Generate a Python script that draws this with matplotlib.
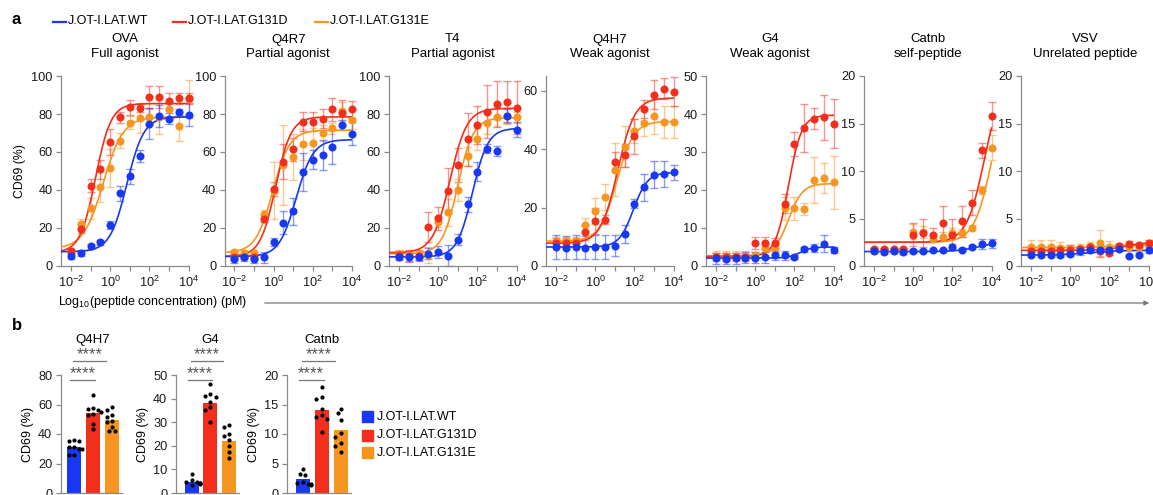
import numpy as np
import matplotlib
matplotlib.use("Agg")
import matplotlib.pyplot as plt
from matplotlib.lines import Line2D
from matplotlib.patches import Rectangle
from matplotlib.ticker import FixedLocator, NullFormatter
import matplotlib.transforms as mtransforms

plt.rcParams['font.family'] = ['Liberation Sans', 'DejaVu Sans']
plt.rcParams['mathtext.fontset'] = 'custom'
plt.rcParams['mathtext.rm'] = 'Liberation Sans'
plt.rcParams['mathtext.it'] = 'Liberation Sans:italic'
plt.rcParams['mathtext.bf'] = 'Liberation Sans:bold'

# ---------------- data ----------------
series_names = ["J.OT-I.LAT.WT", "J.OT-I.LAT.G131D", "J.OT-I.LAT.G131E"]
log_conc = [-2.0, -1.5, -1.0, -0.5, 0.0, 0.5, 1.0, 1.5, 2.0, 2.5, 3.0, 3.5, 4.0]

peptides = ["OVA", "Q4R7", "T4", "Q4H7", "G4", "Catnb", "VSV"]
peptide_desc = ["Full agonist", "Partial agonist", "Partial agonist", "Weak agonist",
                "Weak agonist", "self-peptide", "Unrelated peptide"]
y_max = [100, 100, 100, 65, 50, 20, 20]
y_ticks = [[0, 20, 40, 60, 80, 100], [0, 20, 40, 60, 80, 100], [0, 20, 40, 60, 80, 100],
           [0, 20, 40, 60], [0, 10, 20, 30, 40, 50], [0, 5, 10, 15, 20], [0, 5, 10, 15, 20]]

# mean CD69 (%) and error per concentration
ova_wt = [5.3, 6.8, 10.3, 12.4, 21.6, 38.2, 47.3, 58.0, 75.0, 79.0, 77.6, 81.0, 79.7]
ova_wt_err = [1.5, 1.5, 1.5, 1.5, 2.0, 4.0, 4.0, 3.0, 8.0, 6.0, 3.0, 1.5, 6.0]
ova_d = [7.7, 19.7, 42.3, 51.0, 65.2, 78.3, 83.5, 83.2, 89.0, 89.0, 86.8, 88.3, 88.3]
ova_d_err = [1.5, 2.5, 3.5, 5.0, 7.0, 3.0, 4.0, 2.0, 6.0, 6.0, 4.5, 3.0, 3.0]
ova_e = [8.0, 22.0, 30.5, 41.5, 51.5, 66.0, 75.5, 78.0, 78.5, 78.5, 82.5, 73.5, 88.0]
ova_e_err = [1.0, 2.5, 5.5, 8.0, 10.0, 4.0, 3.5, 8.0, 4.0, 9.0, 4.0, 7.5, 10.0]

q4r7_wt = [3.8, 4.5, 3.8, 4.5, 12.7, 22.8, 28.8, 49.3, 55.8, 58.5, 62.5, 74.2, 69.7]
q4r7_wt_err = [2.0, 2.0, 2.0, 3.0, 2.0, 6.0, 7.0, 10.0, 5.0, 8.0, 9.0, 2.5, 6.0]
q4r7_d = [5.0, 5.0, 5.0, 25.0, 40.5, 55.0, 61.5, 76.0, 76.0, 77.5, 82.5, 80.5, 82.5]
q4r7_d_err = [1.5, 1.5, 1.5, 2.0, 3.5, 9.0, 6.0, 5.0, 5.0, 5.0, 6.0, 7.0, 4.5]
q4r7_e = [7.5, 7.0, 7.0, 27.5, 39.5, 53.0, 57.5, 64.0, 64.5, 70.0, 72.5, 81.5, 77.0]
q4r7_e_err = [1.0, 1.5, 1.5, 2.0, 15.0, 21.0, 12.0, 8.0, 8.0, 4.0, 3.0, 5.0, 5.0]

t4_wt = [4.9, 4.7, 4.9, 6.5, 7.3, 5.5, 13.8, 32.5, 49.6, 61.8, 60.4, 79.2, 71.7]
t4_wt_err = [2.0, 2.0, 2.0, 3.0, 3.0, 5.5, 3.0, 4.0, 5.0, 2.5, 2.5, 3.5, 4.0]
t4_d = [5.8, 5.2, 5.5, 20.4, 25.2, 39.4, 53.0, 66.7, 74.2, 81.2, 85.3, 86.5, 83.3]
t4_d_err = [2.0, 3.0, 3.0, 8.0, 6.0, 12.0, 9.0, 14.0, 10.0, 14.0, 12.0, 11.0, 14.0]
t4_e = [6.5, 6.0, 6.0, 5.8, 23.4, 28.2, 40.0, 57.7, 66.8, 75.3, 78.6, 78.9, 78.3]
t4_e_err = [2.0, 2.0, 2.0, 4.0, 3.0, 7.0, 6.0, 5.0, 6.0, 6.0, 5.0, 4.0, 3.0]

q4h7_wt = [6.5, 6.3, 6.5, 6.3, 6.5, 6.5, 7.0, 10.9, 21.3, 26.9, 31.3, 31.4, 32.0]
q4h7_wt_err = [4.0, 4.0, 4.0, 4.0, 4.0, 4.0, 3.5, 3.0, 1.5, 4.5, 4.5, 4.5, 2.5]
q4h7_d = [8.0, 8.0, 8.0, 11.5, 15.4, 15.9, 35.6, 37.9, 44.4, 53.7, 58.6, 60.7, 59.6]
q4h7_d_err = [1.5, 1.5, 1.5, 2.5, 4.5, 1.5, 3.5, 4.0, 6.0, 3.0, 5.0, 3.5, 5.0]
q4h7_e = [8.5, 8.5, 8.5, 14.0, 18.7, 23.7, 33.0, 40.8, 46.2, 48.9, 51.2, 49.2, 49.2]
q4h7_e_err = [1.5, 1.5, 1.5, 2.5, 4.5, 4.5, 9.0, 7.0, 4.0, 4.5, 6.0, 5.5, 5.5]

g4_wt = [2.0, 1.9, 2.0, 2.2, 2.2, 2.3, 2.8, 2.8, 2.4, 4.4, 4.8, 5.9, 4.1]
g4_wt_err = [1.5, 1.5, 1.5, 1.5, 1.5, 1.5, 1.2, 1.2, 0.5, 0.7, 1.0, 2.3, 0.8]
g4_d = [2.5, 2.5, 2.5, 2.5, 6.0, 6.0, 6.0, 16.4, 32.1, 36.3, 38.8, 39.1, 37.5]
g4_d_err = [1.0, 1.0, 1.0, 1.0, 1.6, 1.6, 1.5, 2.5, 3.2, 6.3, 2.7, 6.0, 6.5]
g4_e = [2.7, 2.7, 2.7, 2.7, 2.8, 4.8, 4.8, 15.2, 15.2, 15.0, 22.6, 23.2, 22.0]
g4_e_err = [1.3, 1.3, 1.3, 1.3, 1.0, 1.0, 1.0, 3.0, 3.0, 1.5, 6.0, 4.0, 7.0]

catnb_wt = [1.57, 1.47, 1.54, 1.43, 1.54, 1.61, 1.68, 1.68, 2.0, 1.71, 2.03, 2.31, 2.38]
catnb_wt_err = [0.2, 0.2, 0.2, 0.2, 0.15, 0.15, 0.15, 0.15, 0.3, 0.15, 0.2, 0.5, 0.5]
catnb_d = [1.75, 1.75, 1.75, 1.75, 3.3, 3.45, 3.3, 4.55, 3.3, 4.7, 6.65, 12.2, 15.8]
catnb_d_err = [0.15, 0.15, 0.15, 0.15, 1.2, 1.5, 0.7, 1.8, 1.6, 1.6, 1.3, 0.8, 1.5]
catnb_e = [1.7, 1.7, 1.7, 1.7, 3.6, 3.6, 2.85, 3.1, 3.45, 3.45, 4.05, 8.0, 12.45]
catnb_e_err = [0.15, 0.15, 0.15, 0.15, 0.8, 0.6, 0.3, 0.5, 0.5, 0.4, 0.3, 0.4, 1.3]

vsv_wt = [1.15, 1.15, 1.15, 1.15, 1.22, 1.57, 1.72, 1.72, 1.68, 1.75, 1.05, 1.17, 1.66]
vsv_wt_err = [0.15, 0.15, 0.15, 0.15, 0.2, 0.4, 0.25, 0.25, 0.25, 0.2, 0.15, 0.15, 0.3]
vsv_d = [1.6, 1.6, 1.6, 1.65, 1.7, 1.75, 1.95, 1.55, 1.35, 2.15, 2.35, 2.2, 2.4]
vsv_d_err = [0.3, 0.3, 0.3, 0.4, 0.5, 0.3, 0.3, 0.6, 0.2, 0.2, 0.3, 0.2, 0.3]
vsv_e = [2.0, 2.0, 2.0, 1.9, 1.75, 1.85, 2.15, 2.45, 2.05, 2.1, 1.95, 1.95, 2.25]
vsv_e_err = [0.75, 0.75, 0.75, 0.6, 0.5, 0.5, 0.4, 1.35, 0.6, 0.3, 0.3, 0.3, 0.5]

# 4-parameter logistic fits: [bottom, top, logEC50, hill]
ova_fit = [[7.5, 78.5, 0.85, 1.0], [7.0, 85.5, -0.75, 1.1], [9.0, 78.5, -0.35, 0.85]]
q4r7_fit = [[5.0, 66.5, 1.15, 1.0], [5.0, 78.5, 0.1, 1.1], [7.0, 71.5, -0.05, 1.0]]
t4_fit = [[4.8, 72.5, 1.75, 1.1], [7.0, 83.0, 0.6, 1.0], [6.5, 78.0, 1.0, 1.1]]
q4h7_fit = [[6.5, 32.0, 1.95, 1.2], [7.8, 57.5, 1.15, 1.0], [8.5, 49.5, 1.1, 1.0]]
g4_fit = [[2.1, 5.0, 2.3, 1.5], [2.5, 39.7, 1.7, 1.3], [2.7, 21.7, 1.7, 1.2]]
catnb_fit = [[1.52, 2.5, 3.3, 0.8], [2.5, 20.0, 3.64, 0.95], [2.5, 20.0, 4.03, 0.95]]
vsv_fit = [[1.15, 1.65, 1.0, 0.6], [1.65, 2.5, 2.8, 0.8], [1.95, 2.2, 2.0, 0.8]]

# panel b: individual replicates at the highest concentration
bar_peptides = ["Q4H7", "G4", "Catnb"]
bar_ymax = [80, 50, 20]
bar_yticks = [[0, 20, 40, 60, 80], [0, 10, 20, 30, 40, 50], [0, 5, 10, 15, 20]]
q4h7_bar_means = [31.3, 54.2, 49.2]
q4h7_wt_reps = [35.8, 35.0, 35.0, 31.3, 30.0, 29.7, 26.0, 25.6, 31.0]
q4h7_d_reps = [66.7, 57.4, 56.2, 54.6, 53.3, 52.8, 46.7, 43.1, 56.8]
q4h7_e_reps = [58.5, 56.2, 52.8, 51.2, 49.0, 47.8, 44.9, 42.2, 42.0]
g4_bar_means = [4.7, 38.2, 22.1]
g4_wt_reps = [8.2, 5.7, 4.7, 4.5, 4.2, 4.2, 3.9, 3.4]
g4_d_reps = [46.2, 41.9, 41.1, 40.8, 38.7, 36.5, 35.1, 30.0]
g4_e_reps = [28.9, 27.8, 25.2, 24.1, 22.4, 19.8, 17.4, 14.9]
catnb_bar_means = [2.3, 14.1, 10.6]
catnb_wt_reps = [4.0, 3.3, 3.0, 1.9, 1.7, 1.5, 1.3, 1.6]
catnb_d_reps = [18.0, 16.3, 15.9, 14.3, 13.2, 12.9, 12.6, 10.4]
catnb_e_reps = [14.3, 13.6, 12.4, 10.1, 8.4, 7.9, 7.0, 9.5]

# ---------------- style ----------------
W, H = 1153, 495
colors = ['#1838f2', '#f22e1c', '#f79520']
spine_c = '#8a8a8a'
fig = plt.figure(figsize=(W / 100, H / 100), dpi=100)


def add_ax(left, top, width, height):
    return fig.add_axes([left / W, 1 - (top + height) / H, width / W, height / H])


def fpx(x, y):
    return (x / W, 1 - y / H)


def style_axes(ax, fs=9.2):
    for s in ['top', 'right']:
        ax.spines[s].set_visible(False)
    for s in ['left', 'bottom']:
        ax.spines[s].set_color(spine_c)
        ax.spines[s].set_linewidth(0.9)
    ax.tick_params(which='both', color=spine_c, width=0.9, length=3.5,
                   labelsize=fs, labelcolor='#1a1a1a', pad=2.5)


def fourpl(lx, p):
    b, t, c, h = p
    return b + (t - b) / (1.0 + 10 ** ((c - lx) * h))


panel_data = [
    (ova_wt, ova_wt_err, ova_d, ova_d_err, ova_e, ova_e_err, ova_fit),
    (q4r7_wt, q4r7_wt_err, q4r7_d, q4r7_d_err, q4r7_e, q4r7_e_err, q4r7_fit),
    (t4_wt, t4_wt_err, t4_d, t4_d_err, t4_e, t4_e_err, t4_fit),
    (q4h7_wt, q4h7_wt_err, q4h7_d, q4h7_d_err, q4h7_e, q4h7_e_err, q4h7_fit),
    (g4_wt, g4_wt_err, g4_d, g4_d_err, g4_e, g4_e_err, g4_fit),
    (catnb_wt, catnb_wt_err, catnb_d, catnb_d_err, catnb_e, catnb_e_err, catnb_fit),
    (vsv_wt, vsv_wt_err, vsv_d, vsv_d_err, vsv_e, vsv_e_err, vsv_fit),
]

ax_left = [61, 224.5, 389, 546, 706, 864, 1021]
ax_w, ax_top, ax_h = 127.5, 76, 190
x_lo = -2.51
conc = 10 ** np.array(log_conc)
lx_fit = np.linspace(x_lo, 4, 300)

for k, pep in enumerate(peptides):
    ax = add_ax(ax_left[k], ax_top, ax_w, ax_h)
    style_axes(ax)
    ax.set_xscale('log')
    ax.set_xlim(10 ** x_lo, 1e4)
    ax.set_ylim(0, y_max[k])
    ax.set_yticks(y_ticks[k])
    ax.xaxis.set_major_locator(FixedLocator([1e-2, 1e0, 1e2, 1e4]))
    ax.xaxis.set_minor_locator(FixedLocator([1e-1, 1e1, 1e3]))
    ax.xaxis.set_minor_formatter(NullFormatter())
    ax.set_xticklabels(['$10^{-2}$', '$10^{0}$', '$10^{2}$', '$10^{4}$'])
    ax.tick_params(axis='x', which='both', pad=3)
    wt, wte, d, de, e, ee, fits = panel_data[k]
    means = [wt, d, e]
    errs = [wte, de, ee]
    order = [2, 1, 0]
    for i in order:
        ax.errorbar(conc, means[i], yerr=errs[i], fmt='none', ecolor=colors[i],
                    alpha=0.5, elinewidth=1.0, capsize=3, capthick=1.0, clip_on=False, zorder=2)
    for i in order:
        ax.plot(10 ** lx_fit, fourpl(lx_fit, fits[i]), color=colors[i], lw=1.2, zorder=3)
    for i in order:
        ax.plot(conc, means[i], 'o', color=colors[i], ms=5.8, mec='none', clip_on=False, zorder=4)
    cx = ax_left[k] + ax_w / 2
    fig.text(*fpx(cx, 39.5), pep, ha='center', va='center', fontsize=9.5)
    fig.text(*fpx(cx, 54.5), peptide_desc[k], ha='center', va='center', fontsize=9.5)
    if k == 0:
        ax.set_ylabel('CD69 (%)', fontsize=8.8, labelpad=4)

# top legend
leg_x = [53, 173, 315]
for i, name in enumerate(series_names):
    fig.add_artist(Line2D([leg_x[i] / W, (leg_x[i] + 13) / W], [1 - 21.5 / H] * 2,
                          color=colors[i], lw=1.6))
    fig.text(*fpx(leg_x[i] + 15, 21.5), name, ha='left', va='center', fontsize=9)

fig.text(*fpx(12, 19), 'a', fontsize=12, fontweight='bold', ha='left', va='center')
fig.text(*fpx(12, 326), 'b', fontsize=12, fontweight='bold', ha='left', va='center')

# x-axis title with arrow
fig.text(*fpx(58, 302), 'Log$_{10}$(peptide concentration) (pM)', ha='left', va='center',
         fontsize=9)
fig.add_artist(matplotlib.patches.FancyArrowPatch(
    fpx(262, 303), fpx(1152, 303), transform=fig.transFigure,
    arrowstyle='-|>', mutation_scale=7, color='#777777', lw=0.9))

# ---------------- panel b ----------------
bar_sets = [
    (q4h7_bar_means, [q4h7_wt_reps, q4h7_d_reps, q4h7_e_reps]),
    (g4_bar_means, [g4_wt_reps, g4_d_reps, g4_e_reps]),
    (catnb_bar_means, [catnb_wt_reps, catnb_d_reps, catnb_e_reps]),
]
b_left = [60.7, 175.7, 286.7]
b_unit = [19.0, 18.7, 19.0]
b_first = [13.2, 16.0, 16.0]
b_top, b_bot = 375, 493
bar_w = 0.75
xpos = [0, 1, 2]


def swarm_offsets(vals, ypx_per_unit, xpx_per_unit, dpx=4.6):
    idx = np.argsort(vals)[::-1]
    placed = []
    offs = np.zeros(len(vals))
    cands = [0, -0.14, 0.14, -0.28, 0.28, -0.42, 0.42]
    for j in idx:
        for c in cands:
            ok = True
            for (px, py) in placed:
                dx = (c - px) * xpx_per_unit
                dy = (vals[j] - py) * ypx_per_unit
                if dx * dx + dy * dy < dpx * dpx:
                    ok = False
                    break
            if ok:
                break
        offs[j] = c
        placed.append((c, vals[j]))
    return offs


for k, pep in enumerate(bar_peptides):
    x_left_units = -b_first[k] / b_unit[k]
    x_right_units = 2.55
    width_px = (x_right_units - x_left_units) * b_unit[k]
    ax = add_ax(b_left[k], b_top, width_px, b_bot - b_top)
    style_axes(ax, fs=9.2)
    ax.set_xlim(x_left_units, x_right_units)
    ax.set_ylim(0, bar_ymax[k])
    ax.set_yticks(bar_yticks[k])
    ax.set_xticks([])
    means, reps = bar_sets[k]
    ax.bar(xpos, means, width=bar_w, color=colors, edgecolor='none', zorder=2)
    ypu = (b_bot - b_top) / bar_ymax[k]
    for i in range(3):
        vals = np.array(reps[i])
        offs = swarm_offsets(vals, ypu, b_unit[k])
        ax.plot(xpos[i] + offs, vals, 'o', color='black', ms=3.0, mec='none', zorder=3,
                clip_on=False)
    ax.set_ylabel('CD69 (%)', fontsize=9, labelpad=3)
    trans = mtransforms.blended_transform_factory(ax.transData, fig.transFigure)
    fig.text(xpos[1], 1 - 340 / H, pep, transform=trans, ha='center', va='center', fontsize=9.5)
    # significance brackets
    for (x0, x1, yl) in [(xpos[0] - 0.05, xpos[2] - 0.3, 361), (xpos[0] - 0.22, xpos[1] + 0.1, 380)]:
        fig.add_artist(Line2D([x0, x1], [1 - yl / H] * 2, transform=trans, color='#777777', lw=0.9))
        fig.text((x0 + x1) / 2, 1 - (yl - 2.0) / H, '****', transform=trans, ha='center',
                 va='baseline', fontsize=12, color='#555555')

# panel b legend
leg_y = [416.7, 435, 452.7]
for i, name in enumerate(series_names):
    fig.add_artist(Rectangle(fpx(362, leg_y[i] + 5.5), 11 / W, 11 / H, transform=fig.transFigure,
                             color=colors[i]))
    fig.text(*fpx(377, leg_y[i]), name, ha='left', va='center', fontsize=9)

fig.savefig('out.png', dpi=100)
